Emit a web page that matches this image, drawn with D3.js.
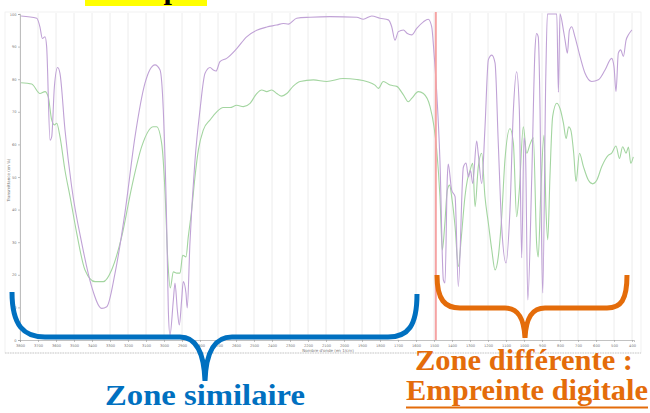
<!DOCTYPE html>
<html lang="fr">
<head>
  <meta charset="UTF-8">
  <title>Spectres IR</title>
  <style>
    body { margin: 0; background: #fff; overflow: hidden; }
    svg { display: block; }
    .axis text { font-family: "DejaVu Sans", sans-serif; font-size: 3.6px; fill: #777; }
    .axis path, .axis line { stroke: #999; stroke-width: 0.6; }
    .grid line { stroke: #ececec; stroke-width: 1; }
    .big { font-family: "Liberation Serif", "Times New Roman", serif; font-weight: bold; font-size: 30px; }
  </style>
</head>
<body>
  <svg id="chart" width="650" height="413"></svg>

  <script src="https://d3js.org/d3.v7.min.js"></script>
  <script>
    // wavenumbers (cm-1) and transmittance (%)
    const purpleWn = [3794,3707,3689,3676,3661,3652,3633,3624,3609,3591,3578,3550,3513,3457,3402,3346,3318,3272,3217,3161,3106,3050,3022,3004,2985,2976,2967,2948,2939,2926,2915,2902,2893,2878,2871,2856,2828,2800,2772,2744,2726,2711,2689,2652,2596,2541,2485,2429,2374,2337,2309,2263,2189,2078,1929,1893,1846,1800,1754,1735,1717,1698,1670,1648,1624,1596,1559,1532,1513,1500,1485,1467,1448,1439,1426,1421,1402,1383,1365,1337,1322,1309,1297,1285,1263,1254,1235,1217,1198,1179,1161,1143,1124,1100,1078,1059,1041,1026,1013,1000,992,979,957,939,930,921,911,902,896,879,870,856,839,818,809,800,781,772,759,748,735,717,689,661,624,587,550,513,500,489,476,463,448,433,420,401];
    const purpleT  = [99.4,98.7,96,92.5,93,90,61.3,62.3,77.7,83.6,81.8,64.4,47,29.7,16.4,9.7,10.2,20.5,39,62.4,78.7,84.4,82.8,70.6,35,9.2,1.5,12.3,17.5,9.2,4.6,12.3,17.9,14.4,9.8,29.7,55,70.6,81.8,83.6,82.8,82.5,85.4,86.4,89.4,93,95,96,96.6,97.1,96.9,98.7,99,99.2,99,98.4,99.4,98.7,98.2,96.1,92,94.6,95.1,94,93.6,95.6,97.6,98.4,96.1,88,76,55,18.4,17.5,50,54,46,44,16.4,53,54.3,50,52,48,61,57,48,65,86,87.4,85,60.4,34.7,23.6,40,70.6,82.3,70.6,25.2,62,58,12.3,50,89,94,93,70.6,29.7,14.4,80.8,100,100,100,100,76,100,95,92,88,95,96.1,93,87,81.8,79.3,79.8,82.8,86.4,83.8,76.2,88,89,87,92,93.6,95.1];

    const greenWn = [3794,3735,3689,3661,3643,3624,3609,3596,3578,3550,3522,3485,3439,3383,3337,3291,3235,3179,3124,3059,3041,3013,2994,2979,2965,2948,2929,2911,2896,2878,2865,2846,2828,2809,2782,2744,2707,2671,2633,2596,2559,2522,2485,2457,2429,2402,2374,2346,2318,2282,2244,2170,2096,2004,1929,1874,1828,1809,1782,1744,1707,1670,1643,1624,1587,1559,1522,1500,1485,1467,1454,1441,1426,1413,1402,1383,1365,1348,1328,1315,1300,1285,1272,1254,1235,1217,1198,1179,1161,1143,1124,1106,1078,1059,1041,1026,1004,985,967,948,930,921,907,889,878,868,856,841,818,800,781,766,752,740,724,711,692,670,642,618,596,568,531,513,489,470,452,433,420,407,393];
    const greenT  = [78.9,78.5,75.6,76.2,74.6,67.5,66,66.5,62.4,52,44,32.8,21.5,17.9,17.9,21.5,31.7,47,59.3,65.4,65.4,60.3,45,24.5,16,20.9,20.5,20.5,26,25.5,31.7,40,50,58.3,64.4,67.5,70,71.3,71.3,72,71.6,72.6,75.6,76.7,76.2,76.7,75.6,74.8,75.6,77.9,79.3,79.8,79.3,80.2,79.9,79.3,78.2,77.2,79.3,78.2,77.8,75.2,73.1,74.1,76.2,75.6,71.6,65.4,58.3,44,27.6,34.8,46,47.5,44,34.8,22.5,31.7,44,49,52,54.2,40.9,53.2,57.3,44,35.8,27.6,21.5,25.5,37.8,55.2,64.9,60.3,37.8,46,65.4,57.3,60,62,29.7,25.5,45,62.9,40,30.7,50,68.5,72.6,71,66.5,61.8,65.4,64.4,57.3,48.6,57.3,53.2,49,47.9,49,53.2,56.7,57.3,59.5,55.7,59.3,57.3,59.2,54.2,56.2];

    const xTicks = d3.range(3800, 399, -100);
    const yTicks = d3.range(0, 101, 10);
    const markerWn = 1490;

    const svg = d3.select("#chart");
    const x = d3.scaleLinear().domain([3800, 389]).range([20, 634]);
    const y = d3.scaleLinear().domain([0, 100]).range([340, 14]);

    // frame around the spectrum panel
    svg.append("rect")
      .attr("x", 5).attr("y", 12).attr("width", 636).attr("height", 341)
      .attr("fill", "none").attr("stroke", "#eee").attr("stroke-width", 0.8);
    svg.append("line")
      .attr("x1", 5).attr("x2", 641).attr("y1", 353).attr("y2", 353)
      .attr("stroke", "#ccc").attr("stroke-dasharray", "1.5,1");

    // vertical grid
    svg.append("g").attr("class", "grid")
      .selectAll("line").data(xTicks).join("line")
      .attr("x1", d => x(d)).attr("x2", d => x(d))
      .attr("y1", y(100) - 1).attr("y2", y(0));

    // axes
    svg.append("g").attr("class", "axis")
      .attr("transform", `translate(0,${y(0)})`)
      .call(d3.axisBottom(x).tickValues(xTicks).tickSize(2).tickPadding(2).tickFormat(d3.format("d")));
    svg.append("g").attr("class", "axis")
      .attr("transform", `translate(${x(3800)},0)`)
      .call(d3.axisLeft(y).tickValues(yTicks).tickSize(2).tickPadding(1.5));

    svg.append("text")
      .attr("x", 328).attr("y", 352)
      .attr("text-anchor", "middle")
      .style("font-family", "DejaVu Sans, sans-serif").style("font-size", "4px").attr("fill", "#777")
      .text("Nombre d'onde (en 1/cm)");
    svg.append("text")
      .attr("transform", "translate(10,180) rotate(-90)")
      .attr("text-anchor", "middle")
      .style("font-family", "DejaVu Sans, sans-serif").style("font-size", "4px").attr("fill", "#777")
      .text("Transmittance (en %)");

    // spectra
    svg.append("clipPath").attr("id", "plot")
      .append("rect").attr("x", 20).attr("y", 13).attr("width", 615).attr("height", 328);

    const line = d3.line()
      .x(d => x(d[0]))
      .y(d => y(d[1]))
      .curve(d3.curveMonotoneX);

    const plot = svg.append("g").attr("clip-path", "url(#plot)");
    plot.append("path")
      .datum(d3.zip(greenWn, greenT))
      .attr("fill", "none").attr("stroke", "#a3d5a0").attr("stroke-width", 1.1)
      .attr("d", line);
    plot.append("path")
      .datum(d3.zip(purpleWn, purpleT))
      .attr("fill", "none").attr("stroke", "#c0a2d6").attr("stroke-width", 1.1)
      .attr("d", line);

    // red marker line
    svg.append("line")
      .attr("x1", x(markerWn)).attr("x2", x(markerWn))
      .attr("y1", 12).attr("y2", y(0))
      .attr("stroke", "#f6a3a3").attr("stroke-width", 2);

    // yellow title box (cut at top)
    svg.append("rect").attr("x", 85).attr("y", 0).attr("width", 122).attr("height", 6).attr("fill", "#ffff00");
    svg.append("text").attr("class", "big").attr("x", 146).attr("y", -1)
      .attr("text-anchor", "middle").attr("fill", "#000").text("Exemple");
    svg.append("text").attr("class", "big").attr("x", -9).attr("y", 374)
      .style("font-size", "20px").attr("fill", "#000").text("e");

    // braces
    svg.append("path")
      .attr("d", "M12,292 C12,326 24,337 45,337 L180,337 C196,337 204,352 205,381 C206,352 214,337 232,337 L388,337 C408,337 417,326 417,294")
      .attr("fill", "none").attr("stroke", "#0070c0").attr("stroke-width", 5);
    svg.append("path")
      .attr("d", "M437,275 C437,300 445,308 460,308 L505,308 C518,308 524,318 525,338 C526,318 532,308 545,308 L607,308 C621,308 627,300 627,275")
      .attr("fill", "none").attr("stroke", "#e46c0a").attr("stroke-width", 5);

    svg.append("text").attr("class", "big")
      .attr("x", 105).attr("y", 405)
      .attr("textLength", 200).attr("lengthAdjust", "spacingAndGlyphs")
      .attr("fill", "#0070c0").text("Zone similaire");
    svg.append("text").attr("class", "big")
      .attr("x", 415).attr("y", 370)
      .attr("textLength", 218).attr("lengthAdjust", "spacingAndGlyphs")
      .attr("fill", "#e46c0a").text("Zone différente :");
    svg.append("text").attr("class", "big")
      .attr("x", 406).attr("y", 400)
      .attr("textLength", 242).attr("lengthAdjust", "spacingAndGlyphs")
      .attr("fill", "#e46c0a").text("Empreinte digitale");
    // underline
    svg.append("line")
      .attr("x1", 406).attr("x2", 648).attr("y1", 407.5).attr("y2", 407.5)
      .attr("stroke", "#e46c0a").attr("stroke-width", 2);
  </script>
</body>
</html>
